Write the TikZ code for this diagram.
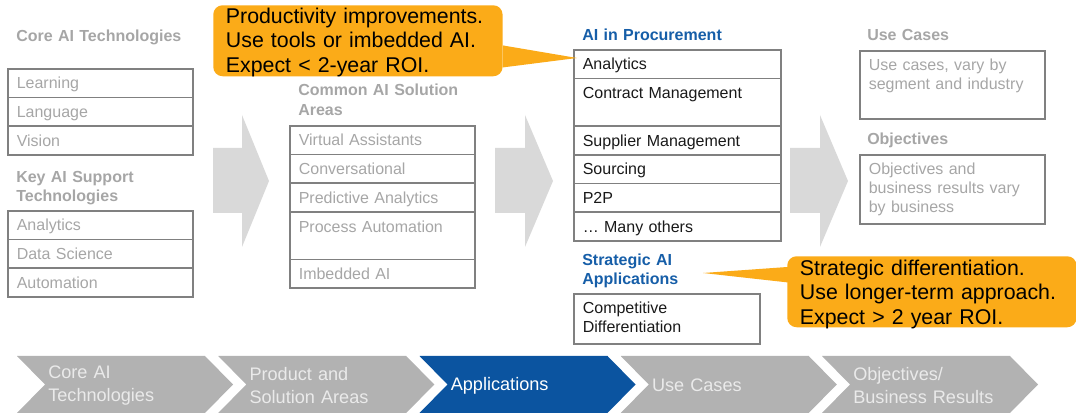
\documentclass[tikz,border=0pt]{standalone}
\usepackage{fontspec}
\setmainfont{Liberation Sans}
\definecolor{cellline}{RGB}{128,128,128}
\definecolor{softgray}{RGB}{166,166,166}
\definecolor{procblue}{RGB}{22,94,168}
\definecolor{stageblue}{RGB}{11,84,160}
\definecolor{stagegray}{RGB}{178,178,178}
\definecolor{stagetext}{RGB}{234,234,234}
\definecolor{noteorange}{RGB}{251,171,24}
\definecolor{flowgray}{RGB}{217,217,217}

\begin{document}
\begin{tikzpicture}[x=0.75pt,y=-0.75pt,
    cell/.style={draw=cellline,line width=1.2pt,anchor=north west,inner xsep=6.75pt,inner ysep=0pt,
        align=left,text height=15pt,text depth=6.56pt,font=\fontsize{12}{14.25}\selectfont},
    graycell/.style={cell,text=softgray,text width=125.25pt},
    proccell/.style={cell,text=black!90,text width=141.75pt},
    tall/.style={text depth=20.625pt},
    heading/.style={anchor=base west,inner sep=0pt,align=left,text width=170pt,
        font=\bfseries\fontsize{12}{14}\selectfont,text=softgray},
    note/.style={fill=noteorange,rounded corners=7pt,anchor=north west,inner xsep=9.5pt,inner ysep=0pt,
        align=left,text width=198pt,font=\fontsize{16}{18.4}\selectfont},
    stage/.style={anchor=west,inner sep=0pt,align=left,text width=150pt,
        font=\fontsize{13.6}{17.25}\selectfont,text=stagetext}]
    \useasboundingbox (0,0) rectangle (1076,413);

    % Flow arrows
    \fill[flowgray] (213,148) -- (242,148) -- (242,115) -- (269,181) -- (242,247) -- (242,213) -- (213,213) -- cycle;
    \fill[flowgray] (495,148) -- (525,148) -- (525,115) -- (553,181) -- (525,247) -- (525,213) -- (495,213) -- cycle;
    \fill[flowgray] (790,148) -- (820,148) -- (820,115) -- (848,181) -- (820,247) -- (820,213) -- (790,213) -- cycle;

    % Core AI technologies
    \node[heading] (coreHead) at (16,42) {Core AI Technologies};
    \node[graycell] (learning) at (7,68) {Learning};
    \node[graycell] (language) at (7,96.75) {Language};
    \node[graycell] (vision) at (7,125.5) {Vision};

    \node[heading] (supportHead) at (16,183) {Key AI Support\\Technologies};
    \node[graycell] (analytics) at (7,210) {Analytics};
    \node[graycell] (datasci) at (7,238.75) {Data Science};
    \node[graycell] (automation) at (7,267.5) {Automation};

    % Common solution areas
    \node[heading,font=\bfseries\fontsize{12}{15}\selectfont] (commonHead) at (298,96) {Common AI Solution\\Areas};
    \node[graycell] (assist) at (289,125) {Virtual Assistants};
    \node[graycell] (convers) at (289,153.75) {Conversational};
    \node[graycell] (predict) at (289,182.5) {Predictive Analytics};
    \node[graycell,tall] (procauto) at (289,211.25) {Process Automation};
    \node[graycell] (imbedded) at (289,258.75) {Imbedded AI};

    % Procurement
    \node[heading,text=procblue] (procHead) at (582,41) {AI in Procurement};
    \node[proccell] (pAnalytics) at (573,49) {Analytics};
    \node[proccell,tall] (pContract) at (573,77.75) {Contract Management};
    \node[proccell] (pSupplier) at (573,125.25) {Supplier Management};
    \node[proccell] (pSourcing) at (573,154) {Sourcing};
    \node[proccell] (pPtoP) at (573,182.75) {P2P};
    \node[proccell] (pOthers) at (573,211.5) {\dots\ Many others};

    \node[heading,text=procblue] (stratHead) at (582,265.5) {Strategic AI\\Applications};
    \node[proccell,text width=126pt,text depth=22.5pt] (pCompet) at (573,293) {Competitive\\Differentiation};

    % Use cases and objectives
    \node[heading] (useHead) at (867,41) {Use Cases};
    \node[graycell,text depth=36pt] (useCases) at (859,50) {Use cases, vary by\\segment and industry};
    \node[heading] (objHead) at (867,145) {Objectives};
    \node[graycell,text depth=36.75pt] (objectives) at (859,154) {Objectives and\\business results vary\\by business};

    % Notes
    \node[note,text height=13.5pt,text depth=39.75pt] (prodNote) at (213,5)
        {Productivity improvements.\\Use tools or imbedded AI.\\Expect < 2-year ROI.};
    \coordinate (prodTip) at (577,58);
    \fill[noteorange] ([yshift=-3.5pt]prodNote.east) -- (prodTip) -- ([yshift=-20pt]prodNote.east) -- cycle;

    \node[note,text height=14.25pt,text depth=39pt] (stratNote) at (787,256)
        {Strategic differentiation.\\Use longer-term approach.\\Expect > 2 year ROI.};
    \coordinate (stratTip) at (703,273);
    \fill[noteorange] ([xshift=6pt,yshift=19pt]stratNote.west) -- (stratTip) -- ([xshift=6pt,yshift=6.4pt]stratNote.west) -- cycle;

    % Stages
    \fill[stagegray] (17,356) -- (205,356) -- (233,384.5) -- (205,413) -- (17,413) -- (45,384.5) -- cycle;
    \fill[stagegray] (218.25,356) -- (406.25,356) -- (434.25,384.5) -- (406.25,413) -- (218.25,413) -- (246.25,384.5) -- cycle;
    \fill[stageblue] (419.5,356) -- (607.5,356) -- (635.5,384.5) -- (607.5,413) -- (419.5,413) -- (447.5,384.5) -- cycle;
    \fill[stagegray] (620.75,356) -- (808.75,356) -- (836.75,384.5) -- (808.75,413) -- (620.75,413) -- (648.75,384.5) -- cycle;
    \fill[stagegray] (822,356) -- (1010,356) -- (1038,384.5) -- (1010,413) -- (822,413) -- (850,384.5) -- cycle;

    \node[stage] (stageCore) at (48,385.5) {Core AI\\Technologies};
    \node[stage] (stageProduct) at (249.25,385.5) {Product and\\Solution Areas};
    \node[stage,text=white] (stageApps) at (450.5,385.5) {Applications};
    \node[stage] (stageUse) at (651.75,385.5) {Use Cases};
    \node[stage] (stageObj) at (853,385.5) {Objectives/\\Business Results};
\end{tikzpicture}
\end{document}
